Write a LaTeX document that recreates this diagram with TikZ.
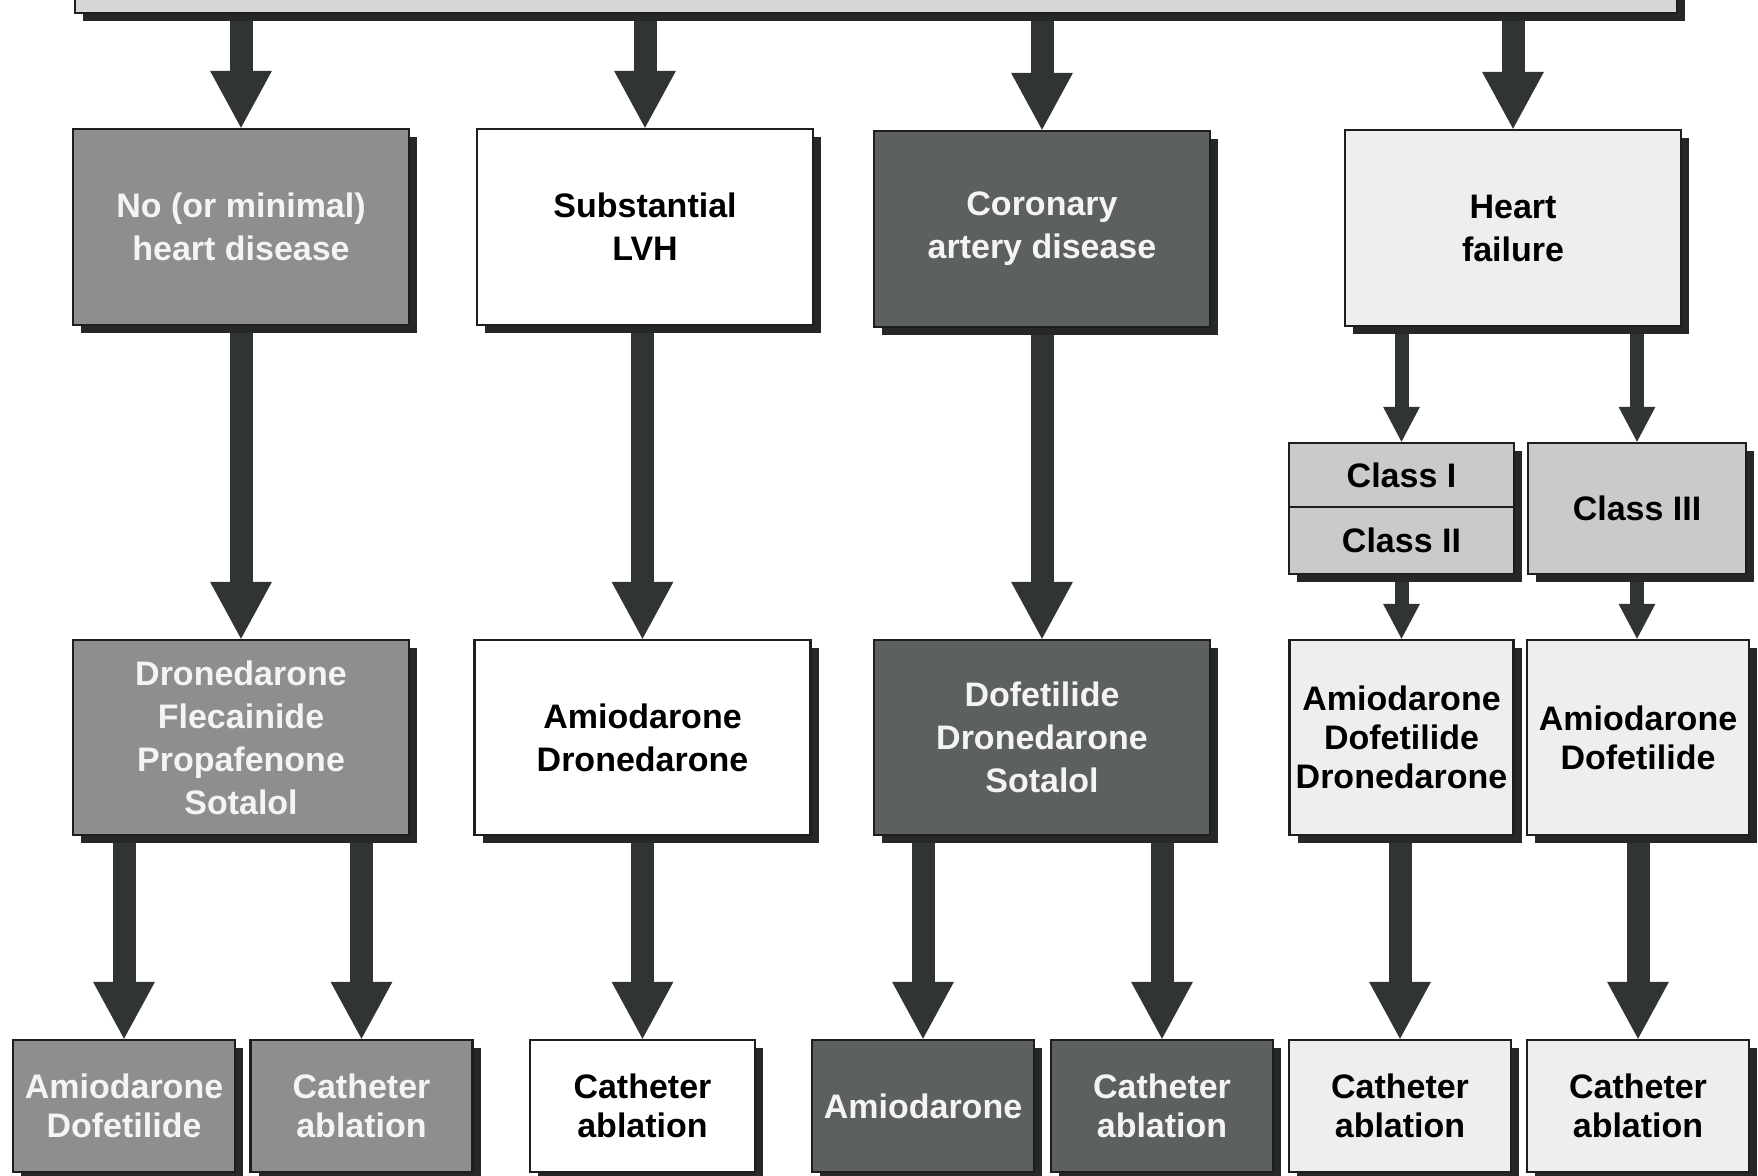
\documentclass[tikz,border=0pt]{standalone}
\usepackage{fontspec}
\setmainfont{Liberation Sans}
\usetikzlibrary{arrows.meta,shadows}
\definecolor{midgray}{HTML}{8E8E8E}
\definecolor{darkbox}{HTML}{5C605E}
\definecolor{litebox}{HTML}{EEEEEE}
\definecolor{classbox}{HTML}{CACACA}
\definecolor{topgray}{HTML}{D6D6D6}
\definecolor{boxline}{HTML}{1E1E1E}
\definecolor{shadowc}{HTML}{262826}
\definecolor{arrowc}{HTML}{303432}
\definecolor{offwhite}{HTML}{F4F4F4}
\pgfdeclarelayer{bg}
\pgfsetlayers{bg,main}
\begin{document}
\begin{tikzpicture}[x=1pt,y=-1pt,
  box/.style={rectangle, draw=boxline, line width=2.5pt, inner sep=1pt, align=center,
    font=\bfseries\fontsize{34}{43}\selectfont,
    drop shadow={shadow xshift=8pt, shadow yshift=-8pt, opacity=1, fill=shadowc}},
  tight/.style={font=\bfseries\fontsize{34}{39}\selectfont},
  mid/.style={fill=midgray, text=offwhite},
  drk/.style={fill=darkbox, text=offwhite},
  wht/.style={fill=white, text=black},
  lit/.style={fill=litebox, text=black},
  cls/.style={fill=classbox, text=black},
  rowone/.style={minimum width=336pt, minimum height=196pt},
  rowtwo/.style={minimum width=336pt, minimum height=195pt},
  narrowtwo/.style={minimum width=224pt, minimum height=195pt},
  rowthree/.style={minimum width=222pt, minimum height=132pt, tight},
  bigarrow/.style={draw=arrowc, line width=23pt, -{Triangle[length=57pt,width=62pt,line width=0pt]}},
  smallarrow/.style={draw=arrowc, line width=14pt, -{Triangle[length=35pt,width=37pt,line width=0pt]}}
]
\useasboundingbox (0,0) rectangle (1758,1175);

% top box
\node[box, fill=topgray, minimum width=1602pt, minimum height=80pt] (top) at (876,-27) {};

% row 1
\node[box, mid, rowone] (a1) at (241,227) {No (or minimal)\\heart disease};
\node[box, wht, rowone] (b1) at (645,227) {Substantial\\LVH};
\node[box, drk, rowone] (c1) at (1042,229) {Coronary\\artery disease};
\node[box, lit, rowone] (d1) at (1513,228) {Heart\\failure};

% heart-failure classes
\node[box, cls, minimum width=225pt, minimum height=64pt] (cI) at (1401.5,475) {Class I};
\node[box, cls, minimum width=225pt, minimum height=67pt] (cII) at (1401.5,540.5) {Class II};
\node[box, cls, minimum width=218pt, minimum height=131pt] (cIII) at (1637,508.5) {Class III};

% row 2
\node[box, mid, rowtwo] (a2) at (241,737.5) {Dronedarone\\Flecainide\\Propafenone\\Sotalol};
\node[box, wht, rowtwo] (b2) at (642.5,737.5) {Amiodarone\\Dronedarone};
\node[box, drk, rowtwo] (c2) at (1042,737.5) {Dofetilide\\Dronedarone\\Sotalol};
\node[box, lit, narrowtwo, tight] (d2a) at (1401.5,737.5) {Amiodarone\\Dofetilide\\Dronedarone};
\node[box, lit, narrowtwo, tight, minimum width=222pt] (d2b) at (1638,737.5) {Amiodarone\\Dofetilide};

% row 3
\node[box, mid, rowthree] (a3a) at (124,1106) {Amiodarone\\Dofetilide};
\node[box, mid, rowthree] (a3b) at (361.5,1106) {Catheter\\ablation};
\node[box, wht, rowthree, minimum width=225pt] (b3) at (642.5,1106) {Catheter\\ablation};
\node[box, drk, rowthree] (c3a) at (923,1106) {Amiodarone};
\node[box, drk, rowthree] (c3b) at (1162,1106) {Catheter\\ablation};
\node[box, lit, rowthree] (d3a) at (1400,1106) {Catheter\\ablation};
\node[box, lit, rowthree] (d3b) at (1638,1106) {Catheter\\ablation};

\begin{pgfonlayer}{bg}
  % from top box
  \draw[bigarrow] (top.south -| a1.north) -- (a1.north);
  \draw[bigarrow] (top.south -| b1.north) -- (b1.north);
  \draw[bigarrow] (top.south -| c1.north) -- (c1.north);
  \draw[bigarrow] (top.south -| d1.north) -- (d1.north);
  % row 1 to row 2
  \draw[bigarrow] (a1.south) -- (a1.south |- a2.north);
  \draw[bigarrow] (b1.south -| b2.north) -- (b2.north);
  \draw[bigarrow] (c1.south -| c2.north) -- (c2.north);
  % heart failure
  \draw[smallarrow] (d1.south -| cI.north) -- (cI.north);
  \draw[smallarrow] (d1.south -| cIII.north) -- (cIII.north);
  \draw[smallarrow] (cII.south) -- (cII.south |- d2a.north);
  \draw[smallarrow] (cIII.south) -- (cIII.south |- d2b.north);
  % row 2 to row 3
  \draw[bigarrow] (a2.south -| a3a.north) -- (a3a.north);
  \draw[bigarrow] (a2.south -| a3b.north) -- (a3b.north);
  \draw[bigarrow] (b2.south -| b3.north) -- (b3.north);
  \draw[bigarrow] (c2.south -| c3a.north) -- (c3a.north);
  \draw[bigarrow] (c2.south -| c3b.north) -- (c3b.north);
  \draw[bigarrow] (d2a.south -| d3a.north) -- (d3a.north);
  \draw[bigarrow] (d2b.south -| d3b.north) -- (d3b.north);
\end{pgfonlayer}
\end{tikzpicture}
\end{document}
